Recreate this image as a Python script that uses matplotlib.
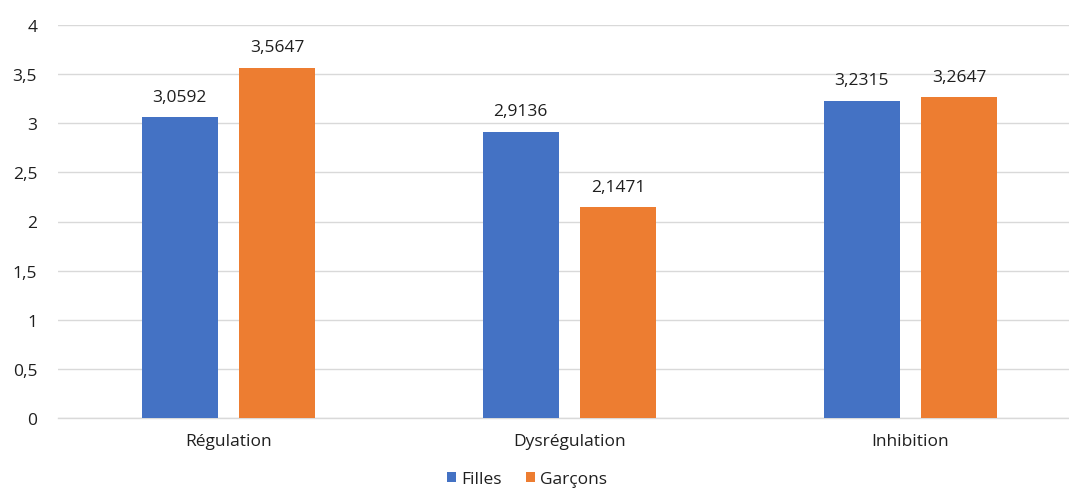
import matplotlib
matplotlib.use("Agg")
import matplotlib.pyplot as plt
import numpy as np

categories = ["Régulation", "Dysrégulation", "Inhibition"]
filles = [3.0592, 2.9136, 3.2315]
garcons = [3.5647, 2.1471, 3.2647]
series_names = ["Filles", "Garçons"]
y_ticks = [0, 0.5, 1, 1.5, 2, 2.5, 3, 3.5, 4]

blue = "#4472C4"
orange = "#ED7D31"
text_color = "#1F1F1F"
fs = 12.5

plt.rcParams["font.family"] = ["Open Sans", "DejaVu Sans"]

fig = plt.figure(figsize=(10.69, 4.89), dpi=100)
# plot area runs past the right edge of the figure
ax = fig.add_axes([58 / 1069, 1 - 419 / 489, 1023 / 1069, (419 - 26) / 489])

x = np.arange(len(categories))
width = 0.222
offset = 0.143

b1 = ax.bar(x - offset, filles, width, color=blue, label=series_names[0], zorder=3)
b2 = ax.bar(x + offset, garcons, width, color=orange, label=series_names[1], zorder=3)

def fmt(v):
    return f"{v:.4f}".replace(".", ",")

for bars, vals in ((b1, filles), (b2, garcons)):
    for rect, v in zip(bars, vals):
        ax.annotate(fmt(v), (rect.get_x() + rect.get_width() / 2, v),
                    xytext=(0, 9), textcoords="offset points",
                    ha="center", va="bottom", fontsize=fs, color=text_color)

ax.set_xlim(-0.5, 2.5)
ax.set_ylim(0, 4)
ax.set_yticks(y_ticks)
ax.set_yticklabels([f"{t:g}".replace(".", ",") for t in y_ticks])
ax.set_xticks(x)
ax.set_xticklabels(categories)
ax.tick_params(axis="both", length=0, labelsize=fs, colors=text_color)
ax.tick_params(axis="y", pad=15)
ax.tick_params(axis="x", pad=11)

ax.yaxis.grid(True, color="#D9D9D9", linewidth=1, zorder=0)
for s in ["top", "right", "left"]:
    ax.spines[s].set_visible(False)
ax.spines["bottom"].set_color("#D9D9D9")
ax.spines["bottom"].set_linewidth(1)

leg = fig.legend(handles=[b1, b2], labels=series_names, loc="center",
                 bbox_to_anchor=(527 / 1069, 1 - 480 / 489), ncol=2,
                 frameon=False, fontsize=fs, handlelength=0.5, handleheight=0.5,
                 handletextpad=0.3, columnspacing=1.4)
for t in leg.get_texts():
    t.set_color(text_color)

fig.savefig("out.png", dpi=100)
